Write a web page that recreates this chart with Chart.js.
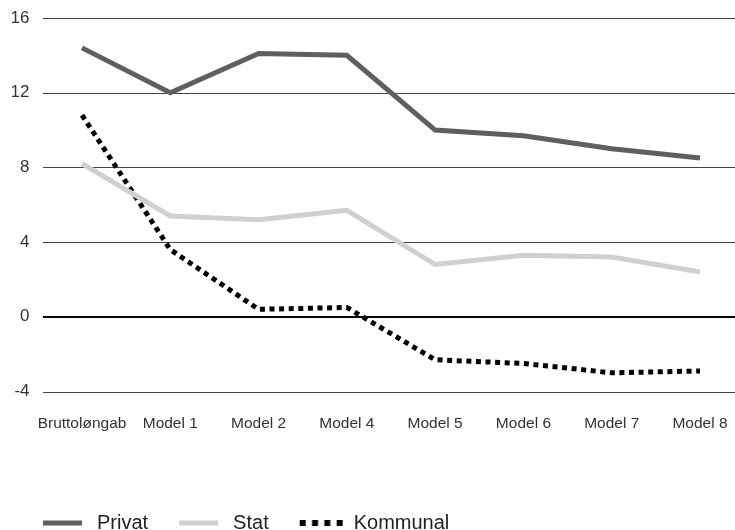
<!DOCTYPE html>
<html>
<head>
<meta charset="utf-8">
<script src="https://cdn.jsdelivr.net/npm/chart.js@4"></script>
<style>
  html, body { margin: 0; padding: 0; background: #fff; }
  #wrap { width: 735px; height: 530px; }
</style>
</head>
<body>
<div id="wrap"><canvas id="lonChart"></canvas></div>
<script>
const categories = ['Bruttoløngab', 'Model 1', 'Model 2', 'Model 4', 'Model 5', 'Model 6', 'Model 7', 'Model 8'];
const privat = [14.4, 12.0, 14.1, 14.0, 10.0, 9.7, 9.0, 8.5];
const stat = [8.2, 5.4, 5.2, 5.7, 2.8, 3.3, 3.2, 2.4];
const kommunal = [10.8, 3.6, 0.4, 0.5, -2.3, -2.5, -3.0, -2.9];
const yTicks = [-4, 0, 4, 8, 12, 16];

const fontFamily = '"Liberation Sans", Arial, sans-serif';

// legend symbols: a short bar, or four square dots
function legendIcon(color, dotted) {
    const c = document.createElement('canvas');
    c.width = 71;
    c.height = 6;
    const g = c.getContext('2d');
    g.fillStyle = color;
    if (dotted) {
        for (let i = 0; i < 4; i++) g.fillRect(27 + i * 12.3, 0, 6, 6);
    } else {
        g.fillRect(27, 0.5, 39, 5);
    }
    return c;
}

// horizontal lines across the full width, from the y scale
const gridLines = {
    id: 'gridLines',
    beforeDatasetsDraw(chart) {
        const ctx = chart.ctx;
        const y = chart.scales.y;
        ctx.save();
        yTicks.forEach(v => {
            const py = Math.round(y.getPixelForValue(v));
            ctx.beginPath();
            if (v === 0) {
                ctx.lineWidth = 2;
                ctx.strokeStyle = '#000';
                ctx.moveTo(43, py);
                ctx.lineTo(chart.width, py);
            } else {
                ctx.lineWidth = 1;
                ctx.strokeStyle = '#444';
                ctx.moveTo(43, py + 0.5);
                ctx.lineTo(chart.width, py + 0.5);
            }
            ctx.stroke();
        });
        ctx.restore();
    }
};

new Chart(document.getElementById('lonChart'), {
    type: 'line',
    data: {
        labels: categories,
        datasets: [{
            label: 'Privat',
            data: privat,
            borderColor: '#5f5f5f',
            backgroundColor: '#5f5f5f',
            borderWidth: 5,
            pointRadius: 0,
            pointStyle: legendIcon('#5f5f5f', false),
            tension: 0
        }, {
            label: 'Stat',
            data: stat,
            borderColor: '#d0d0d0',
            backgroundColor: '#d0d0d0',
            borderWidth: 5,
            pointRadius: 0,
            pointStyle: legendIcon('#d0d0d0', false),
            tension: 0
        }, {
            label: 'Kommunal',
            data: kommunal,
            borderColor: '#000',
            backgroundColor: '#000',
            borderWidth: 5,
            borderDash: [5, 4.6],
            pointRadius: 0,
            pointStyle: legendIcon('#000', true),
            tension: 0
        }]
    },
    options: {
        responsive: true,
        maintainAspectRatio: false,
        animation: false,
        layout: { padding: { left: 12, right: 35, top: 18, bottom: -13 } },
        plugins: {
            tooltip: { enabled: false },
            legend: {
                position: 'bottom',
                align: 'start',
                labels: {
                    usePointStyle: true,
                    pointStyleWidth: 71,
                    boxHeight: 6,
                    padding: 4,
                    color: '#222',
                    font: { family: fontFamily, size: 20 }
                }
            }
        },
        scales: {
            x: {
                offset: false,
                grid: { display: false, drawTicks: false },
                border: { display: false },
                ticks: {
                    padding: 23,
                    color: '#333',
                    maxRotation: 0,
                    autoSkip: false,
                    font: { family: fontFamily, size: 15.5 }
                },
                afterFit(s) {
                    s.height = 117.5;
                    s.paddingLeft = 0;
                    s.paddingRight = 0;
                }
            },
            y: {
                min: -4,
                max: 16,
                grid: { display: false, drawTicks: false },
                border: { display: false },
                afterBuildTicks(s) { s.ticks = yTicks.map(v => ({ value: v })); },
                ticks: {
                    padding: 52.5,
                    color: '#333',
                    font: { family: fontFamily, size: 17 }
                },
                afterFit(s) {
                    s.width = 70;
                    s.paddingTop = 0;
                    s.paddingBottom = 0;
                }
            }
        }
    },
    plugins: [gridLines]
});
</script>
</body>
</html>
